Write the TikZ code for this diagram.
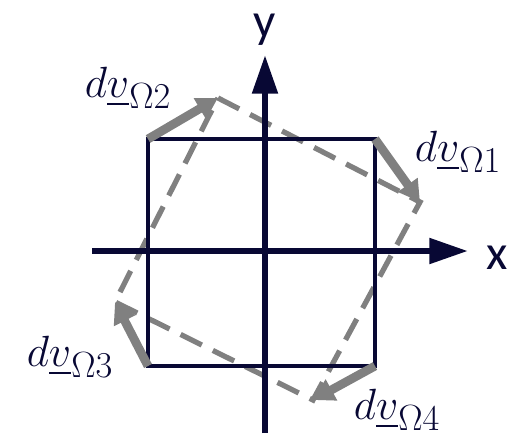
\documentclass[tikz,border=0pt]{standalone}
\usepackage{amsmath}
\usepackage{fontspec}
\newfontfamily\axisfont{Carlito}
\usetikzlibrary{arrows.meta}
\definecolor{navy}{RGB}{8,8,52}
\definecolor{midgray}{RGB}{128,128,128}

\begin{document}
\begin{tikzpicture}[x=0.02cm,y=-0.02cm,
    axisline/.style={navy, line width=3.6pt, -{Triangle[length=22pt,width=14pt]}},
    element/.style={navy, line width=2.8pt, line join=miter},
    moved/.style={midgray, line width=3pt, dash pattern=on 13.5pt off 7pt},
    drift/.style={midgray, line width=5pt, -{Triangle[length=12pt,width=13pt]}},
    lbl/.style={navy, font=\fontsize{28}{32}\selectfont},
    axislbl/.style={navy, font=\axisfont\fontsize{28}{32}\selectfont}]
  \useasboundingbox (0,0) rectangle (510,437);
  % Define points
  \coordinate (S1) at (375,139);
  \coordinate (S2) at (148,139);
  \coordinate (S3) at (148,366);
  \coordinate (S4) at (375,366);
  \coordinate (D1) at (420,202);
  \coordinate (D2) at (218,98);
  \coordinate (D3) at (115,302);
  \coordinate (D4) at (313,400);
  % Deformed element
  \draw[moved] (D2) -- (D1) -- (D4) -- (D3) -- cycle;
  % Undeformed element
  \draw[element] (S1) -- (S2) -- (S3) -- (S4) -- cycle;
  % Axes
  \coordinate (xs) at (92,251);
  \coordinate (xe) at (468,251);
  \coordinate (ys) at (265,433);
  \coordinate (ye) at (265,55);
  \draw[axisline] (xs) -- (xe);
  \draw[axisline] (ys) -- (ye);
  \node[axislbl] (xl) at (497,258) {x};
  \node[axislbl] (yl) at (265,30) {y};
  % Corner displacements
  \draw[drift] (S1) -- (D1);
  \draw[drift] (S2) -- (D2);
  \draw[drift] (S3) -- (D3);
  \draw[drift] (S4) -- (D4);
  \node[lbl] (L1) at (458,152) {$d\underline{v}_{\Omega 1}$};
  \node[lbl] (L2) at (128,88) {$d\underline{v}_{\Omega 2}$};
  \node[lbl] (L3) at (70,357) {$d\underline{v}_{\Omega 3}$};
  \node[lbl] (L4) at (397,410) {$d\underline{v}_{\Omega 4}$};
\end{tikzpicture}
\end{document}
